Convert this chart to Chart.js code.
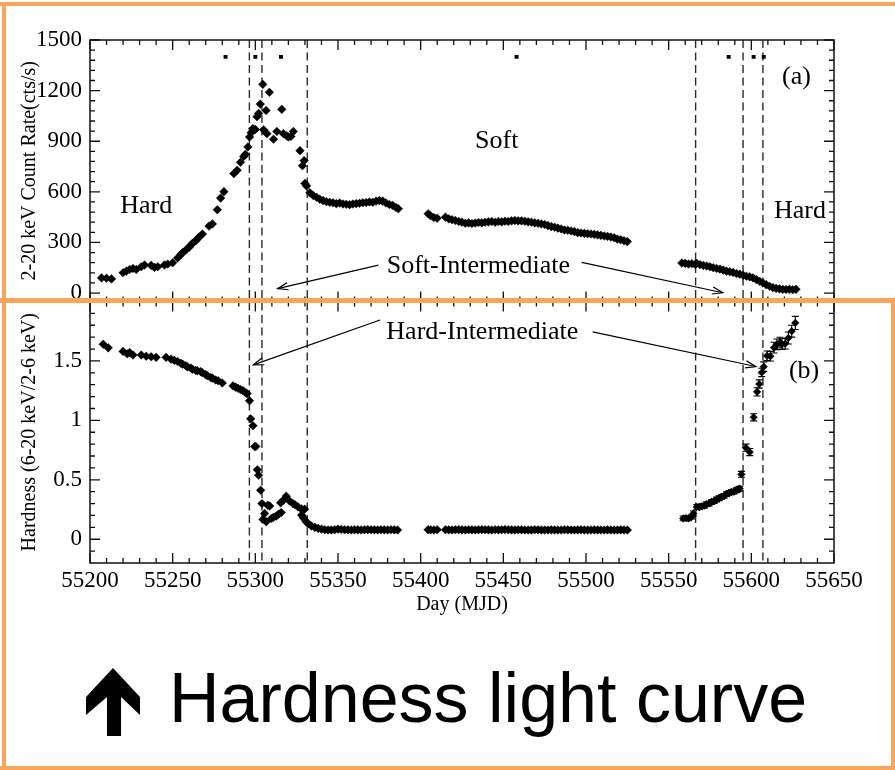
<!DOCTYPE html>
<html>
<head>
<meta charset="utf-8">
<script src="https://cdn.jsdelivr.net/npm/chart.js@4.4.1/dist/chart.umd.min.js"></script>
<style>
  html, body { margin: 0; padding: 0; background: #fff; }
  #page { position: relative; width: 895px; height: 770px; overflow: hidden; background: #fff; }
  #plot { position: absolute; left: 0; top: 0; width: 895px; height: 770px; }
  .frame { position: absolute; background: #F8A65B; }
  #caption { position: absolute; left: 169px; top: 663px; font: 70px 'Liberation Sans', Arial, sans-serif;
             line-height: 70px; color: #000; white-space: nowrap; }
  #uparrow { position: absolute; left: 86px; top: 668px; }
</style>
</head>
<body>
<div id="page">
  <div id="plot"><canvas id="lc"></canvas></div>
  <div class="frame" style="left:0;top:1.7px;width:895px;height:4.5px"></div>
  <div class="frame" style="left:1.5px;top:1.7px;width:4.3px;height:770px"></div>
  <div class="frame" style="left:0;top:297.8px;width:895px;height:5.5px"></div>
  <div class="frame" style="left:890.8px;top:297.8px;width:4.5px;height:473px"></div>
  <div class="frame" style="left:0;top:766px;width:895px;height:4px"></div>
  <svg id="uparrow" width="54" height="68" viewBox="0 0 54 68">
    <polygon points="27,0 54,29 54,47 35,29 35,68 21,68 21,29 0,47 0,29" fill="#000"/>
  </svg>
  <div id="caption">Hardness light curve</div>
</div>
<script>
// ---- panel (a): 2-20 keV count rate ----
const rateDays = [
  55207, 55210, 55213, 55220, 55222, 55224, 55226, 55228, 55231, 55233,
  55237, 55239, 55241, 55245, 55247, 55250, 55253, 55255, 55256, 55258,
  55260, 55261, 55262, 55264, 55265, 55266, 55268, 55272, 55274, 55277,
  55279, 55281, 55287, 55289, 55291, 55293, 55294, 55295.5, 55296.5, 55297.5,
  55298.5, 55300, 55301, 55302, 55303, 55304.5, 55305, 55306.5, 55307, 55308.5,
  55311, 55313, 55316, 55317, 55319, 55320, 55321.5, 55323, 55327, 55328.5,
  55329.5, 55330, 55331, 55333, 55335, 55337, 55339, 55341, 55343, 55345,
  55347, 55349, 55351, 55353, 55355, 55357, 55359, 55361, 55363, 55365,
  55367, 55369, 55371, 55373, 55375, 55377, 55379, 55381, 55383, 55385,
  55386.5,
  55404.5, 55406, 55408, 55410,
  55415, 55417, 55419, 55421, 55423, 55425, 55427, 55429, 55431, 55433,
  55435, 55437, 55439, 55441, 55443, 55445, 55447, 55449, 55451, 55453,
  55455, 55457, 55459, 55461, 55463, 55465, 55467, 55469, 55471, 55473,
  55475, 55477, 55479, 55481, 55483, 55485, 55487, 55489, 55491, 55493,
  55495, 55497, 55499, 55501, 55503, 55505, 55507, 55509, 55511, 55513,
  55515, 55517, 55519, 55521, 55523, 55525,
  55558, 55560, 55562, 55564, 55566, 55567, 55569, 55571, 55573, 55575,
  55577, 55579, 55581, 55583, 55585, 55587, 55589, 55591, 55593, 55595,
  55597, 55599, 55601, 55603, 55605, 55607, 55609, 55611, 55613, 55615,
  55617, 55619, 55621, 55623, 55625, 55627
];
const rate = [
  90, 88, 84, 120, 130, 140, 146, 140, 156, 166,
  164, 152, 156, 166, 172, 180, 208, 228, 240, 255,
  272, 285, 295, 310, 322, 332, 350, 397, 410, 494,
  563, 601, 708, 728, 775, 810, 822, 866, 925, 950,
  975, 970, 1045, 1065, 1120, 1237, 968, 1082, 945, 1190,
  912, 958, 1089, 945, 932, 925, 928, 958, 844, 755,
  785, 650, 635, 595, 578, 568, 556, 548, 542, 538,
  535, 530, 534, 528, 526, 524, 528, 530, 532, 535,
  537, 540, 538, 545, 548, 545, 534, 525, 520, 508,
  500,
  470, 458, 448, 444,
  450, 440, 435, 430, 424, 420, 414, 416, 412, 415,
  418, 416, 420, 422, 424, 420, 424, 422, 426, 424,
  428, 430, 428, 428, 426, 422, 420, 416, 414, 410,
  406, 400, 394, 390, 385, 380, 374, 372, 368, 364,
  358, 356, 354, 352, 350, 348, 345, 342, 338, 336,
  332, 328, 320, 316, 310, 305,
  178, 176, 172, 174, 170, 176, 168, 164, 160, 156,
  150, 146, 142, 136, 130, 126, 122, 116, 112, 106,
  100, 96, 90, 80, 70, 60, 50, 40, 32, 28,
  25, 22, 21, 22, 20, 22
];
// small square markers along the top of panel (a)
const markerDays = [55282, 55300, 55315.5, 55458, 55586.3, 55601.4, 55607.5];
const markerLevel = [1400, 1400, 1400, 1400, 1400, 1400, 1400];

// ---- panel (b): hardness ratio (6-20 keV / 2-6 keV) ----
const hardDays = [
  55208, 55211, 55220, 55222.5, 55224, 55226, 55231, 55234, 55237, 55240,
  55246, 55249, 55251, 55253, 55255, 55256, 55258, 55259, 55261, 55262,
  55264, 55265, 55267, 55268, 55270, 55271, 55273, 55274, 55276, 55277.5,
  55280, 55286.5, 55288, 55289.5, 55291, 55292.5, 55294, 55295, 55296.5, 55297.2,
  55298.6, 55299.6, 55300.3, 55301.2, 55302, 55303.2, 55304, 55304.6, 55305.6, 55306.6,
  55307.5, 55308.7, 55309.7, 55311, 55312.7, 55314, 55315.7, 55315.3, 55317, 55318.7,
  55320.7, 55322.7, 55324, 55325.8, 55327.8, 55329.8, 55328, 55329, 55330.8, 55332,
  55333.9, 55336, 55338,
  55340, 55342, 55344, 55346, 55348, 55350, 55352, 55354, 55356, 55358,
  55360, 55362, 55364, 55366, 55368, 55370, 55372, 55374, 55376, 55378,
  55380, 55382, 55384, 55386,
  55404.5, 55406, 55408, 55410,
  55415, 55417, 55419, 55421, 55423, 55425, 55427, 55429, 55431, 55433,
  55435, 55437, 55439, 55441, 55443, 55445, 55447, 55449, 55451, 55453,
  55455, 55457, 55459, 55461, 55463, 55465, 55467, 55469, 55471, 55473,
  55475, 55477, 55479, 55481, 55483, 55485, 55487, 55489, 55491, 55493,
  55495, 55497, 55499, 55501, 55503, 55505, 55507, 55509, 55511, 55513,
  55515, 55517, 55519, 55521, 55523, 55525
];
const hardness = [
  1.64, 1.61, 1.58, 1.56, 1.57, 1.55, 1.55, 1.54, 1.535, 1.53,
  1.53, 1.515, 1.505, 1.495, 1.48, 1.473, 1.46, 1.45, 1.44, 1.43,
  1.42, 1.417, 1.41, 1.40, 1.385, 1.375, 1.36, 1.355, 1.34, 1.333,
  1.314, 1.29, 1.28, 1.27, 1.26, 1.25, 1.235, 1.225, 1.165, 1.013,
  0.955, 0.78, 0.78, 0.585, 0.538, 0.412, 0.30, 0.167, 0.217, 0.147,
  0.285, 0.28, 0.175, 0.185, 0.195, 0.21, 0.225, 0.306, 0.33, 0.362,
  0.322, 0.30, 0.29, 0.272, 0.255, 0.253, 0.203, 0.18, 0.147, 0.13,
  0.111, 0.10, 0.091,
  0.085, 0.08, 0.078, 0.078, 0.08, 0.085, 0.082, 0.08, 0.079, 0.078,
  0.08, 0.079, 0.078, 0.08, 0.081, 0.08, 0.079, 0.078, 0.08, 0.079,
  0.078, 0.08, 0.079, 0.078,
  0.08, 0.079, 0.078, 0.08,
  0.08, 0.079, 0.078, 0.08, 0.081, 0.079, 0.078, 0.08, 0.079, 0.078,
  0.08, 0.081, 0.08, 0.079, 0.078, 0.08, 0.079, 0.08, 0.081, 0.08,
  0.079, 0.078, 0.08, 0.079, 0.078, 0.077, 0.078, 0.08, 0.079, 0.078,
  0.077, 0.078, 0.079, 0.078, 0.077, 0.078, 0.08, 0.079, 0.078, 0.077,
  0.078, 0.079, 0.078, 0.077, 0.078, 0.079, 0.078, 0.077, 0.078, 0.079,
  0.078, 0.077, 0.078, 0.079, 0.078, 0.077
];
// decay-phase hardness points, drawn with their error bars
const tailDays = [
  55558.8, 55560.5, 55562, 55564, 55565, 55567, 55568.5, 55570, 55571.5, 55573,
  55574.5, 55576, 55577.5, 55579, 55580.5, 55582, 55583.5, 55585, 55586.5, 55588,
  55589.5, 55591, 55592, 55593, 55594, 55596.7, 55599, 55601.4, 55603.5, 55604.8,
  55606.3, 55607.5, 55609.5, 55611.5, 55613.7, 55615.5, 55617.3, 55618.5, 55620.5, 55622.4,
  55624.4, 55626.6
];
const tailHardness = [
  0.175, 0.178, 0.175, 0.19, 0.217, 0.272, 0.27, 0.278, 0.282, 0.295,
  0.30, 0.314, 0.32, 0.334, 0.345, 0.356, 0.365, 0.379, 0.39, 0.398,
  0.40, 0.412, 0.42, 0.426, 0.546, 0.77, 0.733, 1.026, 1.24, 1.306,
  1.403, 1.452, 1.543, 1.54, 1.612, 1.64, 1.654, 1.641, 1.646, 1.693,
  1.75, 1.82
];
const tailError = [
  0.02, 0.02, 0.02, 0.02, 0.02, 0.02, 0.02, 0.02, 0.02, 0.02,
  0.02, 0.02, 0.02, 0.02, 0.02, 0.02, 0.02, 0.02, 0.02, 0.02,
  0.02, 0.02, 0.02, 0.02, 0.025, 0.03, 0.03, 0.03, 0.035, 0.035,
  0.035, 0.04, 0.04, 0.04, 0.045, 0.045, 0.045, 0.045, 0.045, 0.05,
  0.05, 0.055
];

// state-transition epochs (dashed lines through both panels)
const transitionDays = [55296.4, 55304, 55331.4, 55566.3, 55595, 55607];

// tick labels
const dayTicks = [55200, 55250, 55300, 55350, 55400, 55450, 55500, 55550, 55600, 55650];
const rateTicks = [0, 300, 600, 900, 1200, 1500];
const hardTicks = [0, 0.5, 1, 1.5];

// state annotations, placed in data coordinates of each panel
const stateLabels = [
  { axis: 'yA', text: 'Hard', day: 55234, value: 518 },
  { axis: 'yA', text: 'Soft', day: 55446, value: 900 },
  { axis: 'yA', text: '(a)', day: 55627.3, value: 1282 },
  { axis: 'yA', text: 'Hard', day: 55629.4, value: 487 },
  { axis: 'yA', text: 'Soft-Intermediate', day: 55434.9, value: 161 },
  { axis: 'yB', text: 'Hard-Intermediate', day: 55437.3, value: 1.745 },
  { axis: 'yB', text: '(b)', day: 55631.9, value: 1.413 }
];
const pointers = [
  { axis: 'yA', from: [55374.4, 166], to: [55313.5, 26] },
  { axis: 'yA', from: [55497.4, 182], to: [55582.7, 2] },
  { axis: 'yB', from: [55375.4, 1.844], to: [55298.8, 1.467] },
  { axis: 'yB', from: [55504, 1.744], to: [55602.8, 1.453] }
];

const SERIF = "'Liberation Serif', 'Times New Roman', Times, serif";
Chart.defaults.font.family = SERIF;
Chart.defaults.color = '#000';

const toXY = (xs, ys) => xs.map((x, i) => ({ x: x, y: ys[i] }));

function drawArrow(ctx, x0, y0, x1, y1) {
  ctx.beginPath(); ctx.moveTo(x0, y0); ctx.lineTo(x1, y1); ctx.stroke();
  const a = Math.atan2(y1 - y0, x1 - x0), len = 11, spread = 0.33;
  ctx.beginPath();
  ctx.moveTo(x1 - len * Math.cos(a - spread), y1 - len * Math.sin(a - spread));
  ctx.lineTo(x1, y1);
  ctx.lineTo(x1 - len * Math.cos(a + spread), y1 - len * Math.sin(a + spread));
  ctx.stroke();
}

const panelDecor = {
  id: 'panelDecor',
  beforeDatasetsDraw(chart) {
    const { ctx, chartArea, scales } = chart;
    ctx.save();
    ctx.strokeStyle = '#2a2a2a';
    ctx.lineWidth = 1.4;
    ctx.setLineDash([8, 4.5]);
    for (const d of transitionDays) {
      const px = scales.x.getPixelForValue(d);
      ctx.beginPath();
      ctx.moveTo(px, chartArea.top);
      ctx.lineTo(px, chartArea.bottom);
      ctx.stroke();
    }
    ctx.restore();
  },
  afterDatasetsDraw(chart) {
    const { ctx, scales } = chart;
    const x = scales.x, yA = scales.yA, yB = scales.yB;
    ctx.save();

    // error bars of the decay-phase hardness points
    ctx.strokeStyle = '#000';
    ctx.lineWidth = 1.1;
    tailDays.forEach((d, i) => {
      const px = x.getPixelForValue(d);
      const hi = yB.getPixelForValue(tailHardness[i] + tailError[i]);
      const lo = yB.getPixelForValue(tailHardness[i] - tailError[i]);
      ctx.beginPath();
      ctx.moveTo(px, hi); ctx.lineTo(px, lo);
      ctx.moveTo(px - 3.5, hi); ctx.lineTo(px + 3.5, hi);
      ctx.moveTo(px - 3.5, lo); ctx.lineTo(px + 3.5, lo);
      ctx.stroke();
    });

    // panel frames
    ctx.strokeStyle = '#111';
    ctx.lineWidth = 1.5;
    for (const ys of [yA, yB]) {
      ctx.strokeRect(x.left, ys.top, x.right - x.left, ys.bottom - ys.top);
    }

    // inward major / minor tick marks on every side
    ctx.lineWidth = 1.3;
    ctx.beginPath();
    for (const ys of [yA, yB]) {
      for (let d = 55200; d <= 55650; d += 10) {
        const px = x.getPixelForValue(d);
        const len = d % 50 === 0 ? 10 : 5;
        ctx.moveTo(px, ys.top); ctx.lineTo(px, ys.top + len);
        ctx.moveTo(px, ys.bottom); ctx.lineTo(px, ys.bottom - len);
      }
    }
    for (let v = 0; v <= 1500; v += 60) {
      const py = yA.getPixelForValue(v);
      const len = v % 300 === 0 ? 10 : 5;
      ctx.moveTo(x.left, py); ctx.lineTo(x.left + len, py);
      ctx.moveTo(x.right, py); ctx.lineTo(x.right - len, py);
    }
    for (let k = -1; k <= 19; k++) {
      const py = yB.getPixelForValue(k / 10);
      const len = k % 5 === 0 ? 10 : 5;
      ctx.moveTo(x.left, py); ctx.lineTo(x.left + len, py);
      ctx.moveTo(x.right, py); ctx.lineTo(x.right - len, py);
    }
    ctx.stroke();

    // state labels
    ctx.fillStyle = '#000';
    ctx.font = '26px ' + SERIF;
    ctx.textAlign = 'center';
    ctx.textBaseline = 'middle';
    for (const l of stateLabels) {
      ctx.fillText(l.text, x.getPixelForValue(l.day), scales[l.axis].getPixelForValue(l.value));
    }

    // pointer arrows
    ctx.strokeStyle = '#000';
    ctx.lineWidth = 1.2;
    for (const p of pointers) {
      const s = scales[p.axis];
      drawArrow(ctx,
        x.getPixelForValue(p.from[0]), s.getPixelForValue(p.from[1]),
        x.getPixelForValue(p.to[0]), s.getPixelForValue(p.to[1]));
    }
    ctx.restore();
  }
};

const diamond = {
  showLine: false,
  pointStyle: 'rectRot',
  pointRadius: 4.3,
  pointBackgroundColor: '#000',
  pointBorderColor: '#000',
  pointBorderWidth: 0.5
};

new Chart(document.getElementById('lc'), {
  type: 'scatter',
  data: {
    datasets: [
      Object.assign({ label: 'Count rate', data: toXY(rateDays, rate), xAxisID: 'x', yAxisID: 'yA' }, diamond),
      { label: 'Markers', data: toXY(markerDays, markerLevel), xAxisID: 'x', yAxisID: 'yA',
        showLine: false, pointStyle: 'rect', pointRadius: 2.8,
        pointBackgroundColor: '#000', pointBorderColor: '#000', pointBorderWidth: 0 },
      Object.assign({ label: 'Hardness', data: toXY(hardDays, hardness), xAxisID: 'x', yAxisID: 'yB' }, diamond),
      Object.assign({ label: 'Hardness (decay)', data: toXY(tailDays, tailHardness), xAxisID: 'x', yAxisID: 'yB' }, diamond, { pointRadius: 3.8 })
    ]
  },
  options: {
    responsive: true,
    maintainAspectRatio: false,
    animation: false,
    events: [],
    layout: { padding: { left: 0, top: 40, right: 61, bottom: 152 } },
    plugins: { legend: { display: false }, tooltip: { enabled: false } },
    scales: {
      x: {
        type: 'linear',
        position: 'bottom',
        min: 55200,
        max: 55650,
        afterBuildTicks(s) { s.ticks = dayTicks.map(v => ({ value: v })); },
        ticks: { padding: 4, font: { size: 23 }, color: '#000', maxRotation: 0, autoSkip: false,
                 callback: v => String(v) },
        grid: { display: false, drawTicks: false },
        border: { display: false },
        title: { display: true, text: 'Day (MJD)', font: { size: 20 }, color: '#000',
                 padding: { top: 0, bottom: 1 } },
        afterFit(s) { s.height = 55; }
      },
      yA: {
        type: 'linear',
        position: 'left',
        stack: 'panels',
        stackWeight: 1,
        weight: 2,
        min: -50,
        max: 1500,
        afterBuildTicks(s) { s.ticks = rateTicks.map(v => ({ value: v })); },
        ticks: { padding: 8, font: { size: 23 }, color: '#000', autoSkip: false, callback: v => String(v) },
        grid: { display: false, drawTicks: false },
        border: { display: false },
        title: { display: true, text: '2-20 keV Count Rate(cts/s)', font: { size: 20 }, color: '#000',
                 padding: { top: 18, bottom: 0 } },
        afterFit(s) { s.width = 90; }
      },
      yB: {
        type: 'linear',
        position: 'left',
        stack: 'panels',
        stackWeight: 1,
        weight: 1,
        min: -0.2,
        max: 2.0,
        afterBuildTicks(s) { s.ticks = hardTicks.map(v => ({ value: v })); },
        ticks: { padding: 8, font: { size: 23 }, color: '#000', autoSkip: false, callback: v => String(v) },
        grid: { display: false, drawTicks: false },
        border: { display: false },
        title: { display: true, text: 'Hardness (6-20 keV/2-6 keV)', font: { size: 20 }, color: '#000',
                 padding: { top: 18, bottom: 0 } },
        afterFit(s) { s.width = 90; }
      }
    }
  },
  plugins: [panelDecor]
});
</script>
</body>
</html>
